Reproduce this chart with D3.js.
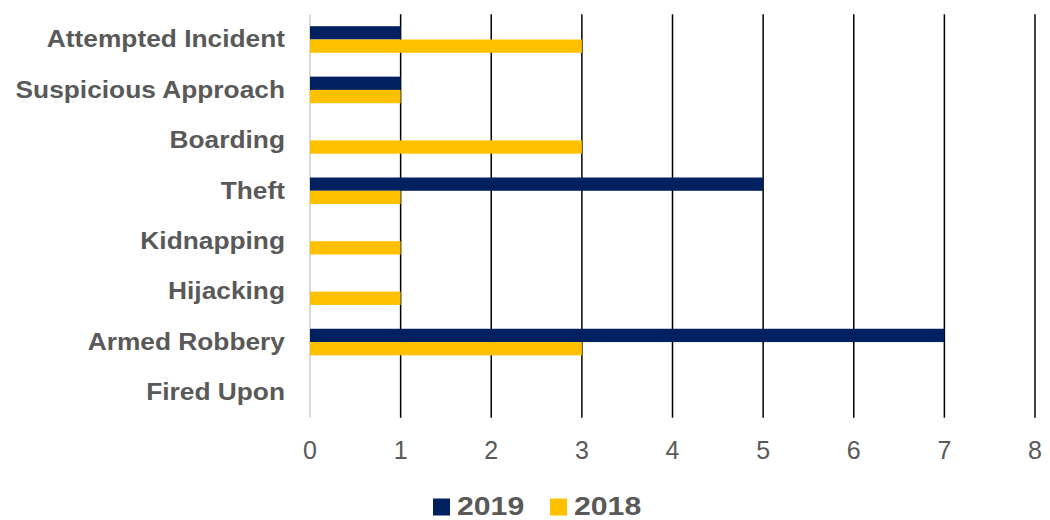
<!DOCTYPE html>
<html>
<head>
<meta charset="utf-8">
<script src="https://cdn.jsdelivr.net/npm/d3@7"></script>
<style>
  html, body { margin: 0; padding: 0; background: #fff; }
  svg { display: block; font-family: "Liberation Sans", Arial, sans-serif; }
</style>
</head>
<body>
<svg id="chart" width="1050" height="520"></svg>
<script>
// Incident types, top to bottom
const categories = [
  "Attempted Incident", "Suspicious Approach", "Boarding", "Theft",
  "Kidnapping", "Hijacking", "Armed Robbery", "Fired Upon"
];
const seriesNames = ["2019", "2018"];
const values2019 = [1, 1, 0, 5, 0, 0, 7, 0];
const values2018 = [3, 1, 3, 1, 1, 1, 3, 0];
const xTicks = [0, 1, 2, 3, 4, 5, 6, 7, 8];
const colors = { "2019": "#002060", "2018": "#FFC000" };

const series = { "2019": values2019, "2018": values2018 };
const svg = d3.select("#chart");
const textColor = "#595959";

const x = d3.scaleLinear().domain([0, 8]).range([310, 1035]);
const y = d3.scaleBand().domain(categories).range([14.3, 417.7]).paddingInner(0).paddingOuter(0);
const groupH = 26.6;
const sub = d3.scaleBand().domain(seriesNames)
  .range([(y.bandwidth() - groupH) / 2, (y.bandwidth() + groupH) / 2]);

// vertical gridlines
svg.append("g").selectAll("line")
  .data(xTicks)
  .join("line")
  .attr("x1", d => x(d)).attr("x2", d => x(d))
  .attr("y1", y.range()[0]).attr("y2", y.range()[1])
  .attr("stroke", d => d === 0 ? "#d9d9d9" : "#000")
  .attr("stroke-width", d => d === 0 ? 2 : 1.5);

// bars
const rows = categories.map((c, i) => ({ c, vals: seriesNames.map(s => ({ s, v: series[s][i] })) }));
const groups = svg.append("g").selectAll("g")
  .data(rows)
  .join("g")
  .attr("transform", d => `translate(0,${y(d.c)})`);
groups.selectAll("rect")
  .data(d => d.vals.filter(e => e.v > 0))
  .join("rect")
  .attr("x", x(0))
  .attr("y", d => sub(d.s))
  .attr("width", d => x(d.v) - x(0))
  .attr("height", sub.bandwidth())
  .attr("fill", d => colors[d.s]);

// category labels
svg.append("g").selectAll("text")
  .data(categories)
  .join("text")
  .attr("transform", d => `translate(285,${y(d) + y.bandwidth() / 2 + 7.8}) scale(1.12,1)`)
  .attr("text-anchor", "end")
  .attr("font-size", 23.5)
  .attr("font-weight", "bold")
  .attr("fill", textColor)
  .text(d => d);

// x tick labels
svg.append("g").selectAll("text")
  .data(xTicks)
  .join("text")
  .attr("x", d => x(d))
  .attr("y", 459)
  .attr("text-anchor", "middle")
  .attr("font-size", 25)
  .attr("fill", textColor)
  .text(d => d);

// legend
const legend = svg.append("g");
const legendItems = [{ s: "2019", x: 433 }, { s: "2018", x: 550 }];
legend.selectAll("rect")
  .data(legendItems)
  .join("rect")
  .attr("x", d => d.x).attr("y", 498.5)
  .attr("width", 17).attr("height", 17)
  .attr("fill", d => colors[d.s]);
legend.selectAll("text")
  .data(legendItems)
  .join("text")
  .attr("transform", d => `translate(${d.x + 24},514.5) scale(1.14,1)`)
  .attr("font-size", 26.5)
  .attr("font-weight", "bold")
  .attr("fill", textColor)
  .text(d => d.s);
</script>
</body>
</html>
